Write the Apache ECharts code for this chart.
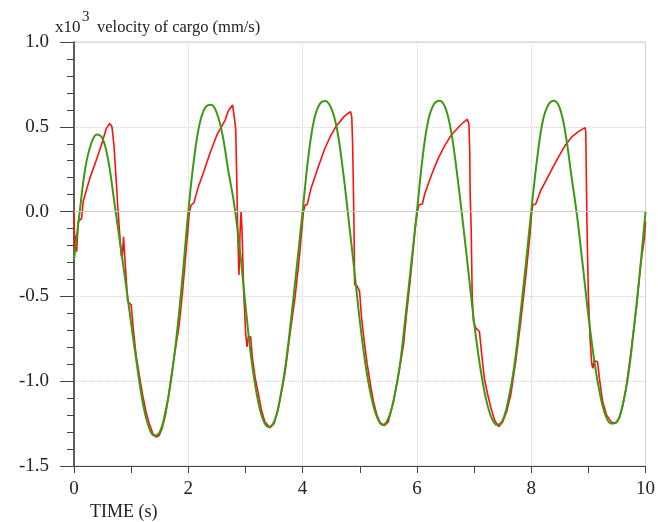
<!DOCTYPE html>
<html><head><meta charset="utf-8">
<script src="https://cdn.jsdelivr.net/npm/echarts@6/dist/echarts.min.js"></script>
<style>html,body{margin:0;padding:0;background:#fff}#c{width:658px;height:522px}</style>
</head><body><div id="c"></div>
<script>
// green (reference) curve: time grid and velocity (x10^3 mm/s)
const greenTime = [0.0,0.1,0.2,0.3,0.4,0.5,0.6,0.7,0.8,0.9,1.0,1.1,1.2,1.3,1.4,1.5,1.6,1.7,1.8,1.9,
  2.0,2.1,2.2,2.3,2.4,2.5,2.6,2.7,2.8,2.9,3.0,3.1,3.2,3.3,3.4,3.5,3.6,3.7,3.8,3.9,
  4.0,4.1,4.2,4.3,4.4,4.5,4.6,4.7,4.8,4.9,5.0,5.1,5.2,5.3,5.4,5.5,5.6,5.7,5.8,5.9,
  6.0,6.1,6.2,6.3,6.4,6.5,6.6,6.7,6.8,6.9,7.0,7.1,7.2,7.3,7.4,7.5,7.6,7.7,7.8,7.9,
  8.0,8.1,8.2,8.3,8.4,8.5,8.6,8.7,8.8,8.9,9.0,9.1,9.2,9.3,9.4,9.5,9.6,9.7,9.8,9.9,10.0];
const greenVel = [-0.285,0.00,0.26,0.40,0.455,0.43,0.30,0.07,-0.17,-0.41,-0.66,-0.90,-1.12,-1.26,-1.32,-1.30,-1.18,-0.99,-0.72,-0.38,
  0.00,0.31,0.52,0.615,0.63,0.58,0.45,0.24,0.05,-0.22,-0.55,-0.86,-1.08,-1.22,-1.27,-1.24,-1.11,-0.91,-0.63,-0.32,
  0.00,0.32,0.54,0.635,0.652,0.61,0.49,0.26,-0.03,-0.33,-0.64,-0.90,-1.09,-1.21,-1.258,-1.22,-1.10,-0.91,-0.62,-0.31,
  0.00,0.32,0.54,0.635,0.654,0.61,0.47,0.23,-0.05,-0.35,-0.65,-0.90,-1.09,-1.21,-1.257,-1.23,-1.11,-0.92,-0.64,-0.33,
  0.00,0.30,0.53,0.63,0.654,0.61,0.46,0.22,-0.02,-0.31,-0.61,-0.87,-1.07,-1.20,-1.25,-1.24,-1.14,-0.96,-0.68,-0.36,0.00];

// red (measured) curve, one [time, velocity] list per cycle
const red1 = [[0,0.004],[0.012,-0.236],[0.03,-0.14],[0.046,-0.236],[0.075,-0.06],[0.104,-0.05],[0.133,-0.04],[0.16,0.058],[0.22,0.13],[0.277,0.196],
  [0.38,0.294],[0.48,0.393],[0.566,0.491],[0.624,0.52],[0.664,0.5],[0.699,0.393],[0.74,0.176],[0.768,0.02],[0.797,0.01],[0.826,-0.256],
  [0.843,-0.276],[0.867,-0.148],[0.89,-0.276],[0.94,-0.53],[1.0,-0.55],[1.04,-0.70],[1.086,-0.845],[1.15,-0.98],[1.20,-1.08],[1.26,-1.18],
  [1.317,-1.25],[1.38,-1.31],[1.44,-1.33],[1.49,-1.32],[1.54,-1.28],[1.60,-1.20],[1.65,-1.10],[1.69,-1.0],[1.76,-0.84],[1.84,-0.67],
  [1.90,-0.47],[1.96,-0.24],[2.02,0.0]];
const red2 = [[2.05,0.04],[2.097,0.05],[2.17,0.14],[2.27,0.235],[2.38,0.345],[2.50,0.452],[2.645,0.54],[2.70,0.595],[2.775,0.629],[2.79,0.62],
  [2.815,0.53],[2.83,0.48],[2.848,0.187],[2.865,-0.128],[2.887,-0.374],[2.905,-0.128],[2.923,0.0],[2.94,-0.108],[2.97,-0.482],[3.004,-0.718],
  [3.027,-0.797],[3.05,-0.738],[3.09,-0.738],[3.12,-0.856],[3.17,-0.98],[3.224,-1.07],[3.28,-1.17],[3.34,-1.24],[3.43,-1.274],[3.50,-1.25],
  [3.57,-1.17],[3.64,-1.05],[3.70,-0.93],[3.78,-0.72],[3.87,-0.5],[3.94,-0.28],[4.015,0.0]];
const red3 = [[4.044,0.04],[4.079,0.04],[4.148,0.137],[4.26,0.25],[4.379,0.363],[4.48,0.44],[4.58,0.50],[4.725,0.56],[4.80,0.58],[4.84,0.589],
  [4.86,0.56],[4.875,0.40],[4.887,0.176],[4.90,-0.1],[4.91,-0.43],[4.957,-0.44],[4.997,-0.47],[5.03,-0.62],[5.072,-0.747],[5.13,-0.90],
  [5.188,-1.02],[5.24,-1.12],[5.30,-1.2],[5.36,-1.245],[5.43,-1.262],[5.50,-1.24],[5.59,-1.12],[5.68,-0.96],[5.765,-0.787],[5.82,-0.60],
  [5.88,-0.414],[5.93,-0.24],[5.968,-0.1],[6.008,0.0]];
const red4 = [[6.037,0.04],[6.095,0.045],[6.14,0.108],[6.26,0.22],[6.372,0.314],[6.49,0.39],[6.603,0.452],[6.776,0.515],[6.88,0.544],[6.91,0.52],
  [6.925,0.35],[6.932,0.098],[6.95,-0.1],[6.967,-0.49],[6.99,-0.65],[7.036,-0.689],[7.094,-0.707],[7.14,-0.86],[7.18,-0.983],[7.24,-1.08],
  [7.297,-1.16],[7.36,-1.23],[7.43,-1.268],[7.50,-1.24],[7.57,-1.18],[7.643,-1.08],[7.73,-0.88],[7.816,-0.65],[7.90,-0.40],[7.978,-0.14],[8.01,0.0]];
const red5 = [[8.03,0.04],[8.08,0.045],[8.17,0.127],[8.27,0.19],[8.37,0.255],[8.49,0.33],[8.60,0.393],[8.71,0.44],[8.82,0.47],[8.94,0.495],
  [8.955,0.47],[8.965,0.2],[8.975,-0.06],[9.00,-0.49],[9.03,-0.75],[9.06,-0.90],[9.08,-0.924],[9.10,-0.88],[9.16,-0.885],[9.20,-1.0],
  [9.25,-1.12],[9.32,-1.2],[9.40,-1.24],[9.47,-1.248],[9.54,-1.22],[9.60,-1.15],[9.66,-1.04],[9.74,-0.84],[9.84,-0.57],[9.92,-0.30],
  [9.98,-0.158],[10.0,-0.06]];

const xRange = [0, 10], xStep = 2;
const yRange = [-1.5, 1.0], yStep = 0.5;
const titleMain = 'velocity of cargo (mm/s)';
const xName = 'TIME (s)';

const SERIF = '"Liberation Serif","DejaVu Serif",serif';
const greenData = greenTime.map((t, i) => [t, greenVel[i]]);
const redData = [].concat(red1, red2, red3, red4, red5);

const chart = echarts.init(document.getElementById('c'));
chart.setOption({
  animation: false,
  backgroundColor: '#ffffff',
  grid: {left: 74, right: 7, top: 42, bottom: 56, show: true, borderColor: '#cccccc', borderWidth: 1},
  xAxis: {
    type: 'value', min: xRange[0], max: xRange[1], interval: xStep,
    axisLine: {show: true, onZero: false, lineStyle: {color: '#444', width: 1}},
    axisTick: {show: true, length: 7, lineStyle: {color: '#444'}},
    minorTick: {show: true, splitNumber: 2, length: 7, lineStyle: {color: '#444'}},
    axisLabel: {fontFamily: SERIF, fontSize: 19, color: '#222', margin: 14},
    splitLine: {show: true, lineStyle: {type: 'dotted', color: '#d4d4d4', width: 1}}
  },
  yAxis: {
    type: 'value', min: yRange[0], max: yRange[1], interval: yStep,
    axisLine: {show: true, onZero: false, lineStyle: {color: '#333', width: 1.5}},
    axisTick: {show: true, length: 14, lineStyle: {color: '#444'}},
    minorTick: {show: true, splitNumber: 5, length: 7, lineStyle: {color: '#444'}},
    axisLabel: {fontFamily: SERIF, fontSize: 19, color: '#222', margin: 25,
      formatter: v => v.toFixed(1)},
    splitLine: {show: true, lineStyle: {type: 'dotted', color: '#d4d4d4', width: 1}}
  },
  graphic: [
    {type: 'text', left: 55, top: 19, style: {text: 'x10', font: '17px ' + SERIF, fill: '#222'}},
    {type: 'text', left: 82, top: 10, style: {text: '3', font: '15px ' + SERIF, fill: '#222'}},
    {type: 'text', left: 97, top: 19, style: {text: titleMain, font: '16.5px ' + SERIF, fill: '#222'}},
    {type: 'text', left: 90, top: 503, style: {text: xName, font: '18px ' + SERIF, fill: '#222'}}
  ],
  series: [
    {type: 'line', data: [], z: 1, silent: true,
      markLine: {silent: true, symbol: 'none', label: {show: false},
        lineStyle: {color: '#cccccc', type: 'solid', width: 1.2},
        data: [[{coord: [xRange[0], 0]}, {coord: [xRange[1], 0]}]]}},
    {type: 'line', data: redData, showSymbol: false, z: 3,
      lineStyle: {color: '#ff1010', width: 1.6}, itemStyle: {color: '#ff1010'}},
    {type: 'line', data: greenData, showSymbol: false, smooth: 0.4, z: 4,
      lineStyle: {color: '#3a9a12', width: 2}, itemStyle: {color: '#3a9a12'}}
  ]
});
</script>
</body></html>
